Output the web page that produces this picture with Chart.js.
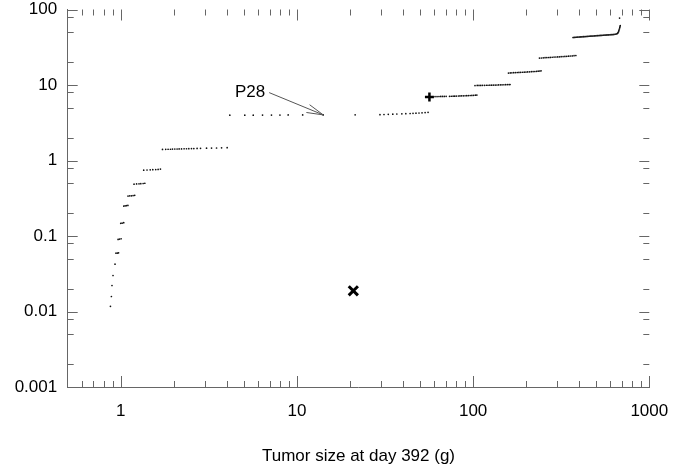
<!DOCTYPE html>
<html>
<head>
<meta charset="utf-8">
<script src="https://cdn.jsdelivr.net/npm/chart.js@4.4.1/dist/chart.umd.min.js"></script>
<style>
  html, body { margin: 0; padding: 0; background: #fff; }
  #chart { display: block; }
</style>
</head>
<body>
<canvas id="chart" width="691" height="471"></canvas>
<script>
// steep lower tail near 1 g
const tailX = [0.874, 0.885, 0.892, 0.904, 0.928,
  0.94, 0.958, 0.972,
  0.966, 0.984, 1.005,
  1.0, 1.018, 1.04,
  1.04, 1.058, 1.075, 1.098,
  1.10, 1.125, 1.15, 1.175, 1.20,
  1.19, 1.23, 1.27, 1.30, 1.34, 1.37,
  1.35, 1.41, 1.47, 1.52, 1.58, 1.63, 1.68];
const tailY = [0.0117, 0.0158, 0.0221, 0.030, 0.0424,
  0.0592, 0.0594, 0.0598,
  0.090, 0.091, 0.092,
  0.147, 0.148, 0.150,
  0.249, 0.251, 0.252, 0.254,
  0.338, 0.340, 0.341, 0.343, 0.346,
  0.486, 0.489, 0.491, 0.493, 0.496, 0.50,
  0.745, 0.748, 0.752, 0.755, 0.758, 0.762, 0.77];

// flat runs at ~1.4 and ~4
const plateauX = [1.726, 1.80, 1.857, 1.916, 1.967, 2.027, 2.089, 2.145, 2.213, 2.289, 2.362,
  2.434, 2.521, 2.599, 2.713, 2.837, 3.069, 3.276, 3.498, 3.735, 4.018,
  4.16, 5.06, 5.65, 6.38, 7.17, 8.01, 8.92, 10.78, 14.1, 21.4,
  29.6, 31.2, 33.0, 35.0, 36.9, 39.4, 41.5, 43.9, 45.6, 47.4, 49.3, 51.3, 53.4, 55.5];
const plateauY = [1.40, 1.405, 1.41, 1.41, 1.415, 1.42, 1.42, 1.425, 1.425, 1.43, 1.43,
  1.435, 1.44, 1.44, 1.445, 1.45, 1.455, 1.46, 1.465, 1.47, 1.48,
  3.98, 3.99, 3.99, 4.0, 4.0, 4.0, 4.01, 4.01, 4.02, 4.03,
  4.05, 4.07, 4.09, 4.11, 4.13, 4.15, 4.17, 4.19, 4.21, 4.23, 4.26, 4.28, 4.31, 4.35];

// stair steps at ~7, ~10, ~15, ~23
const stairX = [60.8, 62.4, 64.0, 65.5, 67.0, 68.6, 70.3, 73.5, 75.2, 77.0, 78.6, 80.3,
  82.5, 84.2, 86.0, 88.0, 90.0, 92.0, 94.0, 96.2, 98.4, 100.6, 103.0, 105.0,
  102.5, 105.5, 108.0, 110.5, 113.0, 116.0, 119.0, 121.5, 124.5, 127.5, 130.5,
  133.5, 136.5, 139.5, 143.0, 146.0, 149.5, 153.0, 156.5, 160.0, 162.0,
  158.7, 162.5, 166, 170, 174, 178, 182, 186, 190.5, 195,
  199.5, 204, 209, 214, 219, 224, 229, 234, 239, 243,
  238, 244, 250, 256, 262, 268, 274, 281, 288, 295, 302,
  309, 316, 324, 332, 340, 348, 356, 365, 374, 383];
const stairY = [7.02, 7.03, 7.04, 7.05, 7.05, 7.06, 7.07, 7.09, 7.10, 7.11, 7.12, 7.13,
  7.15, 7.16, 7.18, 7.19, 7.21, 7.22, 7.24, 7.26, 7.28, 7.30, 7.33, 7.35,
  9.84, 9.86, 9.87, 9.88, 9.89, 9.90, 9.92, 9.93, 9.94, 9.96, 9.97,
  9.99, 10.0, 10.02, 10.04, 10.06, 10.08, 10.1, 10.12, 10.14, 10.16,
  14.4, 14.45, 14.5, 14.55, 14.6, 14.64, 14.68, 14.72, 14.76, 14.8,
  14.85, 14.9, 14.95, 15.0, 15.05, 15.1, 15.17, 15.24, 15.32, 15.4,
  22.7, 22.8, 22.9, 23.0, 23.1, 23.15, 23.2, 23.3, 23.4, 23.5, 23.55,
  23.6, 23.7, 23.8, 23.9, 24.0, 24.1, 24.2, 24.3, 24.45, 24.6];

// dense top run with the upturn, plus the lone point above it
const topX = [369, 374, 379, 384, 389, 394, 400, 405, 410, 415, 421, 426, 432, 437, 443,
  449, 455, 461, 467, 473, 479, 486, 492, 498, 505, 511, 518, 525, 532, 539,
  546, 553, 561, 568, 575, 583, 590, 598, 606, 614, 622, 630, 639, 647, 655,
  660, 664, 668, 671, 674, 677, 680, 682, 684, 678];
const topY = [42.6, 42.7, 42.8, 42.9, 43.0, 43.1, 43.2, 43.3, 43.4, 43.5, 43.6, 43.7, 43.8, 43.9, 44.0,
  44.1, 44.2, 44.3, 44.4, 44.5, 44.6, 44.7, 44.8, 44.9, 45.0, 45.1, 45.2, 45.3, 45.4, 45.5,
  45.6, 45.7, 45.8, 45.9, 46.0, 46.1, 46.2, 46.3, 46.4, 46.5, 46.6, 46.8, 47.0, 47.3, 47.7,
  48.3, 49.2, 50.5, 52.0, 53.8, 55.6, 57.6, 59.5, 61.4, 76.9];

const plusMark = { x: 56.5, y: 6.91 };
const crossMark = { x: 20.9, y: 0.0188 };
const p28Point = { x: 14.1, y: 4.02 };
const p28Label = { x: 5.42, y: 8.05, text: 'P28' };

const xMajorTicks = [1, 10, 100, 1000];
const xMinorTicks = [0.6, 0.7, 0.8, 0.9, 2, 3, 4, 5, 6, 7, 8, 9,
  20, 30, 40, 50, 60, 70, 80, 90, 200, 300, 400, 500, 600, 700, 800, 900];
const yMajorTicks = [0.001, 0.01, 0.1, 1, 10, 100];
const yMinorTicks = [0.002, 0.005, 0.008, 0.02, 0.05, 0.08, 0.2, 0.5, 0.8,
  2, 5, 8, 20, 50, 80];

const FONT = { family: '"Liberation Sans", Arial, Helvetica, sans-serif', size: 17, lineHeight: 1.12 };
const TICK_COLOR = '#666';

function zip(xs, ys) {
  return xs.map((x, i) => ({ x: x, y: ys[i] }));
}

const dots = [].concat(zip(tailX, tailY), zip(plateauX, plateauY), zip(stairX, stairY), zip(topX, topY));

// inward tick marks on all four sides + P28 annotation
const decorations = {
  id: 'decorations',
  afterDraw(chart) {
    const { ctx, chartArea: a, scales: { x, y } } = chart;
    ctx.save();
    ctx.strokeStyle = TICK_COLOR;
    ctx.lineWidth = 1;
    ctx.beginPath();
    const vTick = (v, len) => {
      const px = Math.round(x.getPixelForValue(v)) + 0.5;
      ctx.moveTo(px, a.top); ctx.lineTo(px, a.top + len);
      ctx.moveTo(px, a.bottom); ctx.lineTo(px, a.bottom - len);
    };
    const hTick = (v, len) => {
      const py = Math.round(y.getPixelForValue(v)) + 0.5;
      ctx.moveTo(a.left, py); ctx.lineTo(a.left + len, py);
      ctx.moveTo(a.right, py); ctx.lineTo(a.right - len, py);
    };
    xMinorTicks.forEach(v => vTick(v, 6));
    xMajorTicks.forEach(v => vTick(v, 11));
    yMinorTicks.forEach(v => hTick(v, 6));
    yMajorTicks.forEach(v => hTick(v, 10));
    ctx.stroke();

    // label
    const lx = x.getPixelForValue(p28Label.x);
    const ly = y.getPixelForValue(p28Label.y);
    ctx.fillStyle = '#000';
    ctx.font = FONT.size + 'px ' + FONT.family;
    ctx.textAlign = 'center';
    ctx.textBaseline = 'middle';
    ctx.fillText(p28Label.text, lx, ly);
    const w = ctx.measureText(p28Label.text).width;

    // arrow
    const x0 = lx + w / 2 + 4, y0 = ly + 0.5;
    const x1 = x.getPixelForValue(p28Point.x), y1 = y.getPixelForValue(p28Point.y);
    const ang = Math.atan2(y0 - y1, x0 - x1);
    const head = 17, spread = 0.25;
    ctx.strokeStyle = '#555';
    ctx.lineWidth = 1;
    ctx.beginPath();
    ctx.moveTo(x0, y0); ctx.lineTo(x1, y1);
    ctx.moveTo(x1 + head * Math.cos(ang - spread), y1 + head * Math.sin(ang - spread));
    ctx.lineTo(x1, y1);
    ctx.lineTo(x1 + head * Math.cos(ang + spread), y1 + head * Math.sin(ang + spread));
    ctx.stroke();
    ctx.restore();
  }
};

new Chart(document.getElementById('chart').getContext('2d'), {
  type: 'scatter',
  data: {
    datasets: [{
      data: dots,
      pointRadius: 0.85,
      pointHoverRadius: 0.85,
      backgroundColor: '#111',
      borderWidth: 0
    }, {
      data: [plusMark],
      pointStyle: 'cross',
      pointRadius: 4.5,
      borderColor: '#000',
      borderWidth: 2.5
    }, {
      data: [crossMark],
      pointStyle: 'crossRot',
      pointRadius: 6.5,
      borderColor: '#000',
      borderWidth: 3
    }]
  },
  options: {
    responsive: false,
    animation: false,
    layout: { padding: { top: 0, right: 41.7, left: 0, bottom: 0 } },
    plugins: { legend: { display: false }, tooltip: { enabled: false } },
    scales: {
      x: {
        type: 'logarithmic',
        min: 0.5,
        max: 1000,
        afterBuildTicks: (s) => { s.ticks = xMajorTicks.map(v => ({ value: v })); },
        afterFit: (s) => { s.height = 84; },
        ticks: {
          callback: (v) => String(v),
          font: FONT,
          color: '#000',
          padding: 15,
          autoSkip: false,
          maxRotation: 0
        },
        grid: { display: false, drawTicks: false },
        border: { display: true, color: TICK_COLOR, width: 1 },
        title: {
          display: true,
          text: 'Tumor size at day 392 (g)',
          font: FONT,
          color: '#000',
          padding: { top: 0, bottom: 5.5 }
        }
      },
      y: {
        type: 'logarithmic',
        min: 0.001,
        max: 100,
        afterBuildTicks: (s) => { s.ticks = yMajorTicks.map(v => ({ value: v })); },
        afterFit: (s) => { s.width = 67.7; s.paddingTop = 9.5; s.paddingBottom = 0; },
        ticks: {
          callback: (v) => String(v),
          font: FONT,
          color: '#000',
          padding: 10.5,
          autoSkip: false
        },
        grid: { display: false, drawTicks: false },
        border: { display: true, color: TICK_COLOR, width: 1 }
      }
    }
  },
  plugins: [decorations]
});
</script>
</body>
</html>
